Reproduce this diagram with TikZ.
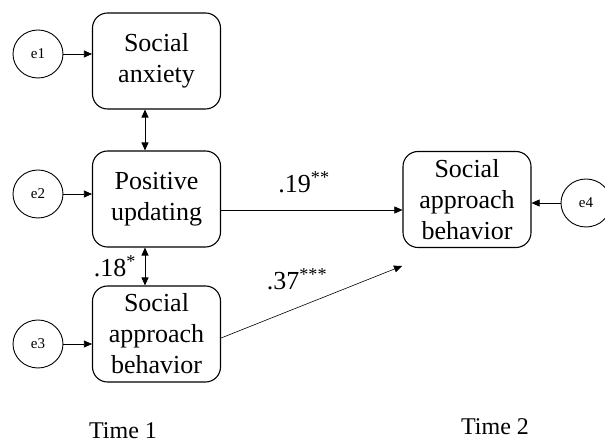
\documentclass[tikz,border=0pt]{standalone}
\usepackage{fontspec}
\setmainfont{Liberation Serif}
\usetikzlibrary{arrows.meta,shapes.geometric}
\begin{document}
\begin{tikzpicture}[x=1pt,y=-1pt,
  var/.style={draw,line width=1.1pt,rounded corners=15pt,minimum width=128pt,minimum height=96pt,
    align=center,font=\fontsize{26}{31}\selectfont,inner sep=0pt},
  err/.style={draw,line width=0.9pt,ellipse,minimum width=50pt,minimum height=48pt,inner sep=0pt,
    font=\fontsize{15}{17}\selectfont},
  arr/.style={line width=0.6pt,-{Triangle[length=8pt,width=7pt]}},
  biarr/.style={line width=0.9pt,{Triangle[length=8pt,width=7pt]}-{Triangle[length=8pt,width=7pt]}},
  lab/.style={font=\fontsize{26}{31}\selectfont,anchor=base,inner sep=0pt}]
\useasboundingbox (0,0) rectangle (605,443);
\node[var] (sa) at (156.5,61) {Social\\anxiety};
\node[var] (pu) at (156.5,199) {Positive\\updating};
\node[var] (sab1) at (156.5,334) {Social\\approach\\behavior};
\node[var] (sab2) at (467,199.5) {Social\\approach\\behavior};
\node[err] (e1) at (38,54) {e1};
\node[err] (e2) at (38,194) {e2};
\node[err] (e3) at (38,344) {e3};
\node[err] (e4) at (586,203) {e4};
\coordinate (t37) at (402,266);
\draw[arr] (e1.east) -- (sa.west |- e1.east);
\draw[arr] (e2.east) -- (pu.west |- e2.east);
\draw[arr] (e3.east) -- (sab1.west |- e3.east);
\draw[arr] (e4.west) -- (sab2.east |- e4.west);
\draw[biarr] (sa.south -| 145,0) -- (pu.north -| 145,0);
\draw[biarr] (pu.south -| 145,0) -- (sab1.north -| 145,0);
\draw[arr,line width=0.5pt] (pu.east |- 0,210) -- (sab2.west |- 0,210);
\draw[arr] (sab1.east |- 0,338) -- (t37);
\node[lab] (l19) at (304,193) {.19\textsuperscript{**}};
\node[lab] (l18) at (115,277) {.18\textsuperscript{*}};
\node[lab] (l37) at (297,290) {.37\textsuperscript{***}};
\node[lab,font=\fontsize{24}{28}\selectfont] (t1) at (123,438) {Time 1};
\node[lab,font=\fontsize{24}{28}\selectfont] (t2) at (495,434) {Time 2};
\end{tikzpicture}
\end{document}
